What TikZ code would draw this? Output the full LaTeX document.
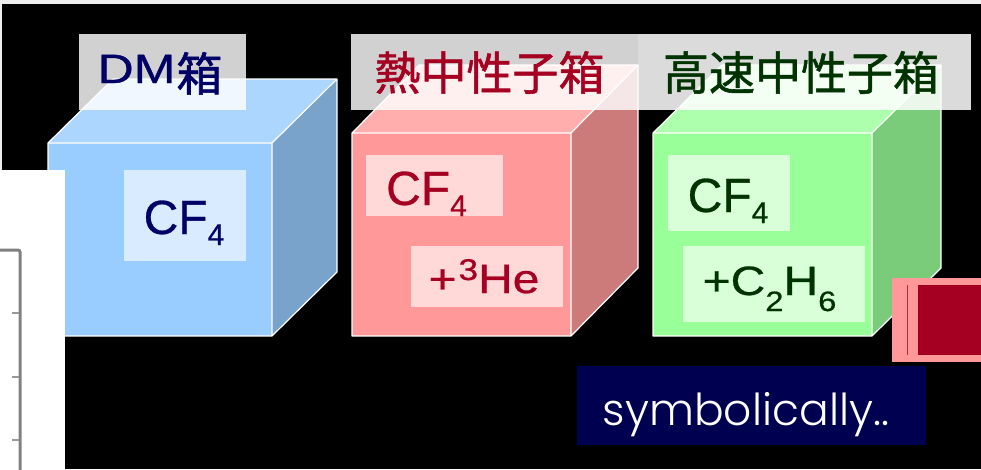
\documentclass[tikz,border=0pt]{standalone}
\usepackage{fontspec}
\setmainfont{Liberation Sans}[FakeBold=0.6]
\newfontfamily\widefont[FakeStretch=1.17,FakeBold=0.6]{Liberation Sans}
\newfontfamily\dmfont[FakeStretch=1.22,FakeBold=0.8]{Liberation Sans}
\newfontfamily\cjk[FakeBold=1.2]{Noto Sans CJK JP}
\IfFontExistsTF{Poppins Light}{\newfontfamily\symfont{Poppins Light}}{\newfontfamily\symfont{Poppins}}
\definecolor{bluefront}{HTML}{99CCFF}
\definecolor{bluetop}{HTML}{ADD6FF}
\definecolor{blueside}{HTML}{7AA3CC}
\definecolor{redfront}{HTML}{FF9999}
\definecolor{redtop}{HTML}{FFADAD}
\definecolor{redside}{HTML}{CC7A7A}
\definecolor{greenfront}{HTML}{99FF99}
\definecolor{greentop}{HTML}{ADFFAD}
\definecolor{greenside}{HTML}{7ACC7A}
\definecolor{navytxt}{HTML}{000066}
\definecolor{redtxt}{HTML}{A50021}
\definecolor{greentxt}{HTML}{003300}
\definecolor{navybox}{HTML}{000050}
\definecolor{stripgray}{HTML}{EEEEEE}
\newcommand\mysub[3]{\raisebox{-#1pt}{\fontsize{#2}{#2}\selectfont #3}}
\newcommand\drawcube[7]{%
  \fill[#7front] (#1,#2) rectangle (#3,#4);
  \fill[#7top] (#1,#2) -- (#1+#5,#2-#6) -- (#3+#5,#2-#6) -- (#3,#2) -- cycle;
  \fill[#7side] (#3,#2) -- (#3+#5,#2-#6) -- (#3+#5,#4-#6) -- (#3,#4) -- cycle;
  \draw[cubeedge] (#1,#2) rectangle (#3,#4)
    (#1,#2) -- (#1+#5,#2-#6) -- (#3+#5,#2-#6) -- (#3+#5,#4-#6) -- (#3,#4)
    (#3,#2) -- (#3+#5,#2-#6);
}
\begin{document}
\begin{tikzpicture}[x=1pt,y=-1pt,
  cubeedge/.style={draw=white, line width=1.2pt, line join=round},
  labelbox/.style={fill=white, fill opacity=#1, draw=none, inner sep=0, anchor=north west},
  innerbox/.style={fill=white, fill opacity=0.62, draw=none, inner sep=0, anchor=north west},
  txt/.style={inner sep=0, anchor=base},
  axis/.style={draw=gray, line width=3pt, line cap=round, rounded corners=2pt},
  tick/.style={draw=gray!80, line width=2pt}]
\useasboundingbox (0,0) rectangle (981,469);
% background
\fill[stripgray] (0,0) rectangle (981,469);
\fill[black] (2,4) rectangle (981,469);
% cubes
\drawcube{48}{143}{272}{336}{65}{64}{blue}
\drawcube{352}{133}{571}{336}{67}{68}{red}
\drawcube{653}{133}{872}{336}{69}{68}{green}
% title boxes
\node[labelbox=0.82, minimum width=167pt, minimum height=76pt] (boxDM) at (79,34) {};
\node[labelbox=0.82, minimum width=287pt, minimum height=76pt] (boxTh) at (351,34) {};
\node[labelbox=0.86, minimum width=333pt, minimum height=76pt] (boxFa) at (638,34) {};
\node[txt, text=navytxt] (tDM) at (160,83) {\dmfont\fontsize{41}{41}\selectfont DM\hspace{1pt}\raisebox{-8pt}{\cjk\fontsize{46}{46}\selectfont 箱}};
\node[txt, text=redtxt] (tTh) at (489.5,90) {\cjk\fontsize{46}{46}\selectfont 熱中性子箱};
\node[txt, text=greentxt] (tFa) at (801,90) {\cjk\fontsize{46}{46}\selectfont 高速中性子箱};
% inner boxes
\node[innerbox, minimum width=122pt, minimum height=91pt] (gB) at (124,170) {};
\node[innerbox, minimum width=137pt, minimum height=61pt] (gR1) at (366,155) {};
\node[innerbox, minimum width=152pt, minimum height=61pt] (gR2) at (411,246) {};
\node[innerbox, minimum width=122pt, minimum height=76pt] (gG1) at (668,155) {};
\node[innerbox, minimum width=182pt, minimum height=76pt] (gG2) at (683,246) {};
\node[txt, text=navytxt] (cfB) at (184,234) {\fontsize{48}{48}\selectfont CF\mysub{11}{30}{4}};
\node[txt, text=redtxt] (cfR) at (426.5,205) {\fontsize{48}{48}\selectfont CF\mysub{11}{30}{4}};
\node[txt, text=redtxt] (he) at (484,293) {\widefont\fontsize{41}{41}\selectfont +\hspace{2pt}\raisebox{13pt}{\fontsize{30}{30}\selectfont 3}He};
\node[txt, text=greentxt] (cfG) at (728,212) {\fontsize{48}{48}\selectfont CF\mysub{11}{30}{4}};
\node[txt, text=greentxt] (eth) at (769.5,295) {\widefont\fontsize{41}{41}\selectfont +C\mysub{16}{28}{2}H\mysub{16}{28}{6}};
% white plot area at left
\fill[white] (0,170) rectangle (65,469);
\draw[axis] (0,250) -- (20,250) -- (20,472);
\draw[tick] (12,313) -- (19,313);
\draw[tick] (12,377) -- (19,377);
\draw[tick] (12,440) -- (19,440);
% red block at right
\fill[redfront] (892,278) rectangle (981,362);
\fill[redtxt] (918,285) rectangle (981,355);
\draw[redtxt!85!white, line width=1pt] (907,285) -- (907,355);
% symbolically
\node[fill=navybox, draw=none, inner sep=0, minimum width=349pt, minimum height=79pt] (sym) at (751.5,405.5) {};
\node[txt, text=white] (symt) at (746,425) {\symfont\fontsize{44}{44}\selectfont symbolically..};
\end{tikzpicture}
\end{document}
